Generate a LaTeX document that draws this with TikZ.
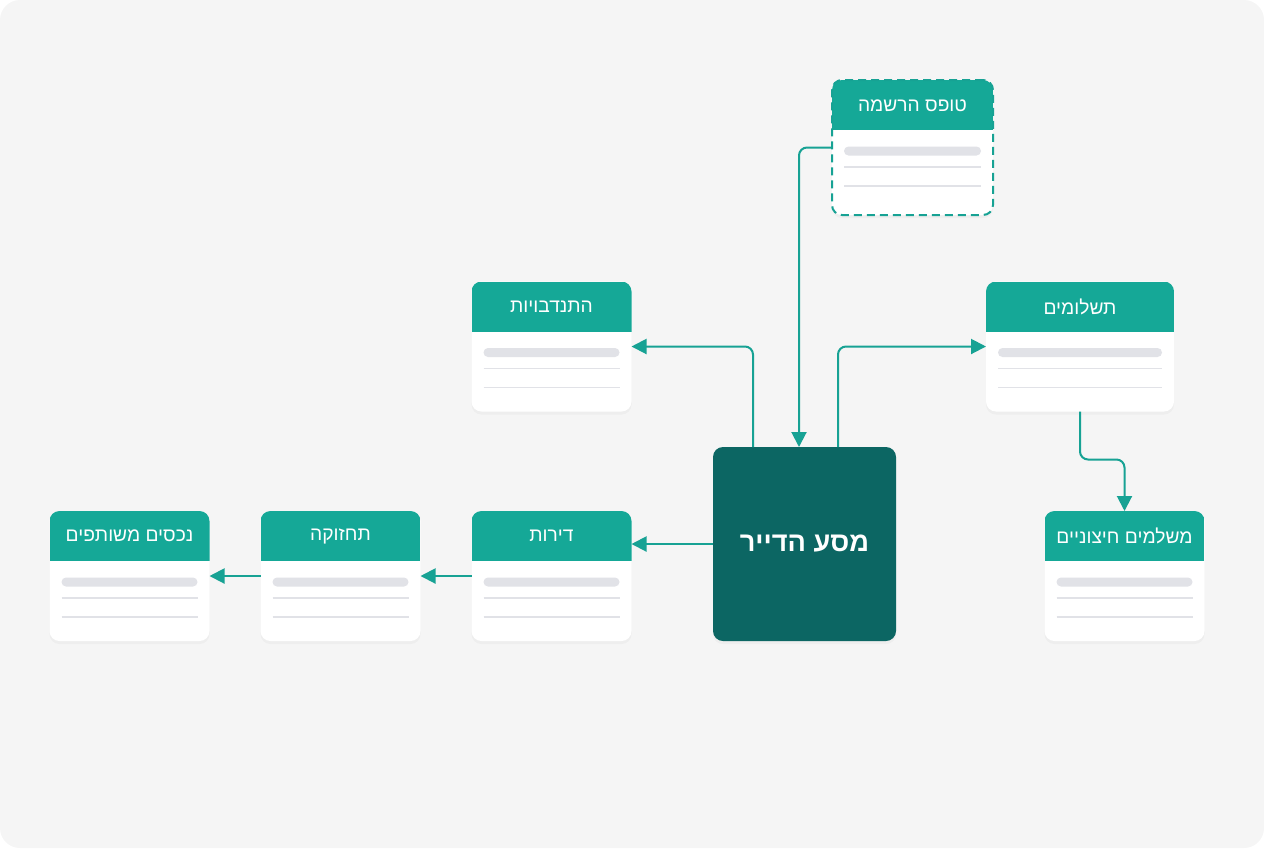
\documentclass[tikz,border=0pt]{standalone}
\usepackage{fontspec}
\newfontfamily\hebfont[Script=Hebrew]{Liberation Sans}
\TeXXeTstate=1
\usetikzlibrary{arrows.meta,positioning,shadows}
\newcommand{\hebtxt}[1]{\beginR #1\endR}
\definecolor{bgpanel}{HTML}{F5F5F5}
\definecolor{hdrfill}{HTML}{15A897}
\definecolor{accent}{HTML}{17A294}
\definecolor{hubfill}{HTML}{0C6663}
\definecolor{barfill}{HTML}{E1E2E7}
\definecolor{linegray}{HTML}{E1E2E7}
\tikzset{
  card/.style={fill=white,rounded corners=5pt,minimum width=80pt,minimum height=65pt,inner sep=0pt,outer sep=0pt,
    drop shadow={opacity=0.06,shadow xshift=0pt,shadow yshift=-1.5pt},
    path picture={
      \fill[hdrfill,sharp corners] (path picture bounding box.north west) rectangle ([yshift=-25pt]path picture bounding box.north east);
      \fill[barfill,rounded corners=2.25pt] ([xshift=6pt,yshift=-33.25pt]path picture bounding box.north west) rectangle ([xshift=-6pt,yshift=-37.75pt]path picture bounding box.north east);
      \draw[linegray,line width=0.8pt,solid,sharp corners] ([xshift=6pt,yshift=-43.5pt]path picture bounding box.north west) -- ([xshift=-6pt,yshift=-43.5pt]path picture bounding box.north east);
      \draw[linegray,line width=0.8pt,solid,sharp corners] ([xshift=6pt,yshift=-53pt]path picture bounding box.north west) -- ([xshift=-6pt,yshift=-53pt]path picture bounding box.north east);
    }},
  dashcard/.style={card,draw=accent,line width=1pt,dash pattern=on 4pt off 2.5pt},
  hdrtxt/.style={text=white,font=\hebfont\fontsize{9.6}{11}\selectfont,inner sep=0pt},
  hub/.style={fill=hubfill,rounded corners=5pt,minimum width=91.5pt,minimum height=97pt,text=white,outer sep=0pt,
    font=\hebfont\bfseries\fontsize{13.6}{16}\selectfont,
    drop shadow={opacity=0.06,shadow xshift=0pt,shadow yshift=-1.5pt}},
  arr/.style={-{Triangle[length=7.5pt,width=7.5pt]},accent,line width=1pt,rounded corners=4pt}
}
\begin{document}
\begin{tikzpicture}[x=0.5pt,y=-0.5pt,node distance=25.5pt]
\useasboundingbox (0,0) rectangle (1264,848);
\fill[bgpanel,rounded corners=10pt] (0,0) rectangle (1264,848);

% cards
\node[dashcard,minimum width=80.5pt,minimum height=67.5pt] (form) at (912.5,147.5) {};
\node[card] (vol) at (551.5,346.5) {};
\node[card,minimum width=94pt] (pay) at (1080,346.5) {};
\node[hub] (hub) at (804.5,544) {\hebtxt{מסע הדייר}};
\node[card] (apt) at (551.5,576) {};
\node[card,left=of apt] (maint) {};
\node[card,left=of maint] (shared) {};
\node[card] (ext) at (1124.5,576) {};

% header labels
\node[hdrtxt] (formT) at ([yshift=-13pt]form.north) {\hebtxt{טופס הרשמה}};
\node[hdrtxt] (volT) at ([yshift=-12.5pt]vol.north) {\hebtxt{התנדבויות}};
\node[hdrtxt] (payT) at ([yshift=-12.5pt]pay.north) {\hebtxt{תשלומים}};
\node[hdrtxt] (aptT) at ([yshift=-12.5pt]apt.north) {\hebtxt{דירות}};
\node[hdrtxt] (maintT) at ([yshift=-12.5pt]maint.north) {\hebtxt{תחזוקה}};
\node[hdrtxt] (sharedT) at ([yshift=-12.5pt]shared.north) {\hebtxt{נכסים משותפים}};
\node[hdrtxt] (extT) at ([yshift=-12.5pt]ext.north) {\hebtxt{משלמים חיצוניים}};

% connectors
\draw[arr] (form.west) -| ([xshift=-2.75pt]hub.north);
\draw[arr] ([xshift=-25.75pt]hub.north) |- (vol.east);
\draw[arr] ([xshift=16.75pt]hub.north) |- (pay.west);
\draw[arr] (pay.south) -- ++(0,-24pt) -| (ext.north);
\draw[arr] (hub.west) -- (hub.west -| apt.east);
\draw[arr] (apt.west) -- (maint.east);
\draw[arr] (maint.west) -- (shared.east);

\end{tikzpicture}
\end{document}
